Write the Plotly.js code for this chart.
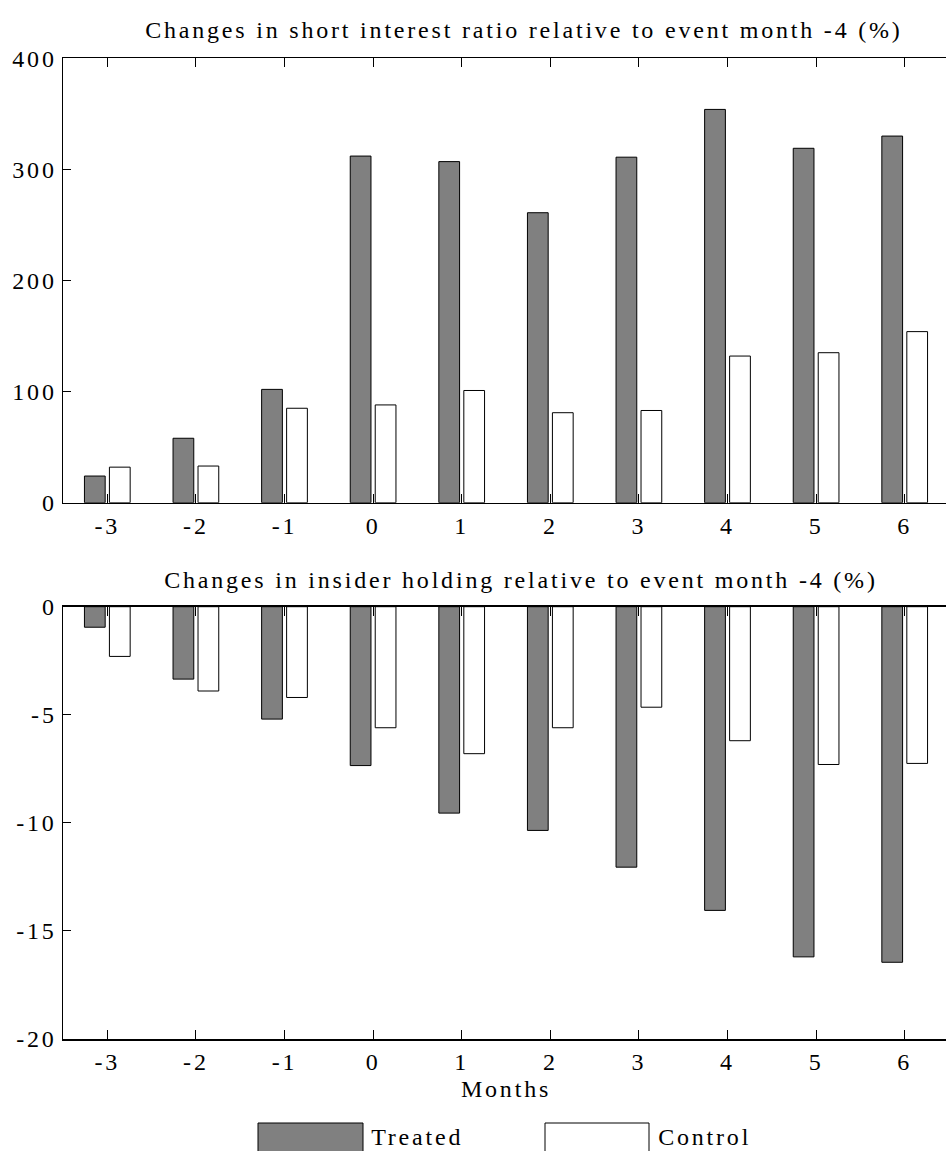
<!DOCTYPE html>
<html>
<head>
<meta charset="utf-8">
<script src="https://cdn.plot.ly/plotly-3.0.1.min.js"></script>
<style>
html, body { margin: 0; padding: 0; background: #fff; overflow: hidden; }
#chart { width: 950px; height: 1151px; }
.main-svg text { letter-spacing: 2.8px; }
</style>
</head>
<body>
<div id="chart"></div>
<script>
// ---- data ----
const months = [-3, -2, -1, 0, 1, 2, 3, 4, 5, 6];
const monthLabels = ['-3', '-2', '-1', '0', '1', '2', '3', '4', '5', '6'];
const shortTreated = [24, 58, 102, 312, 307, 261, 311, 354, 319, 330];
const shortControl = [32, 33, 85, 88, 101, 81, 83, 132, 135, 154];
const insiderTreated = [-0.95, -3.35, -5.2, -7.35, -9.55, -10.35, -12.05, -14.05, -16.2, -16.45];
const insiderControl = [-2.3, -3.9, -4.2, -5.6, -6.8, -5.6, -4.65, -6.2, -7.3, -7.25];
const topTicks = [0, 100, 200, 300, 400];
const topTickLabels = ['0', '100', '200', '300', '400'];
const botTicks = [-20, -15, -10, -5, 0];
const botTickLabels = ['-20', '-15', '-10', '-5', '0'];
const seriesNames = ['Treated', 'Control'];
const treatedColor = '#808080';
const controlColor = '#ffffff';

const barLine = { color: '#000', width: 1 };
const traces = [
  { type: 'bar', x: months, y: shortTreated, name: seriesNames[0], xaxis: 'x', yaxis: 'y',
    marker: { color: treatedColor, line: barLine } },
  { type: 'bar', x: months, y: shortControl, name: seriesNames[1], xaxis: 'x', yaxis: 'y',
    marker: { color: controlColor, line: barLine } },
  { type: 'bar', x: months, y: insiderTreated, name: seriesNames[0], xaxis: 'x2', yaxis: 'y2',
    marker: { color: treatedColor, line: barLine } },
  { type: 'bar', x: months, y: insiderControl, name: seriesNames[1], xaxis: 'x2', yaxis: 'y2',
    marker: { color: controlColor, line: barLine } }
];

const H = 1151, L = 63, PW = 886;
const py = v => 1 - v / H;
const px = v => (v - L) / PW;
const FS = 24;

const xCommon = {
  range: [-3.5, 6.5], tickvals: months, ticktext: monthLabels,
  ticks: 'inside', ticklen: 9, tickwidth: 1, tickcolor: '#000',
  showline: true, linecolor: '#000', linewidth: 1.5, mirror: 'ticks',
  showgrid: false, zeroline: false, fixedrange: true, automargin: false,
  ticklabelstandoff: 1
};
const yCommon = {
  ticks: 'inside', ticklen: 8, tickwidth: 1, tickcolor: '#000',
  showline: true, linecolor: '#000', linewidth: 1.5, mirror: false,
  showgrid: false, zeroline: false, fixedrange: true, automargin: false,
  ticklabelstandoff: 0
};
const yRight = {
  side: 'right', ticks: 'inside', ticklen: 8, tickwidth: 1, tickcolor: '#000',
  showticklabels: false, showline: false, showgrid: false, zeroline: false,
  fixedrange: true, automargin: false
};

const layout = {
  width: 950, height: H,
  margin: { l: L, r: 1, t: 0, b: 0 },
  paper_bgcolor: '#fff', plot_bgcolor: '#fff',
  font: { family: 'Liberation Serif, Times New Roman, serif', size: FS, color: '#000' },
  showlegend: false,
  barmode: 'group', bargap: 0.436, bargroupgap: 0.17,
  xaxis: Object.assign({}, xCommon, { anchor: 'y', domain: [0, 1] }),
  yaxis: Object.assign({}, yCommon, { anchor: 'x', domain: [py(502.7), py(58.3)],
    range: [0, 400], tickvals: topTicks, ticktext: topTickLabels }),
  yaxis3: Object.assign({}, yRight, { overlaying: 'y', anchor: 'x', range: [0, 400], tickvals: topTicks }),
  xaxis2: Object.assign({}, xCommon, { anchor: 'y2', domain: [0, 1],
    title: { text: 'Months', standoff: 6, font: { size: FS } } }),
  yaxis2: Object.assign({}, yCommon, { anchor: 'x2', domain: [py(1039), py(606.7)],
    range: [-20, 0], tickvals: botTicks, ticktext: botTickLabels }),
  yaxis4: Object.assign({}, yRight, { overlaying: 'y2', anchor: 'x2', range: [-20, 0], tickvals: botTicks }),
  annotations: [
    { text: 'Changes in short interest ratio relative to event month -4 (%)',
      xref: 'paper', yref: 'paper', x: px(524), y: py(30), xanchor: 'center', yanchor: 'middle',
      showarrow: false, font: { size: FS } },
    { text: 'Changes in insider holding relative to event month -4 (%)',
      xref: 'paper', yref: 'paper', x: px(521), y: py(580), xanchor: 'center', yanchor: 'middle',
      showarrow: false, font: { size: FS } },
    { text: seriesNames[0], xref: 'paper', yref: 'paper', x: px(379), y: py(1137),
      xanchor: 'left', yanchor: 'middle', showarrow: false, font: { size: FS } },
    { text: seriesNames[1], xref: 'paper', yref: 'paper', x: px(666), y: py(1137),
      xanchor: 'left', yanchor: 'middle', showarrow: false, font: { size: FS } }
  ],
  shapes: [
    { type: 'rect', xref: 'paper', yref: 'paper', x0: px(258), x1: px(363), y0: py(1123), y1: py(1170),
      fillcolor: treatedColor, line: { color: '#000', width: 1 } },
    { type: 'rect', xref: 'paper', yref: 'paper', x0: px(545), x1: px(649), y0: py(1123), y1: py(1170),
      fillcolor: controlColor, line: { color: '#000', width: 1 } }
  ]
};

Plotly.newPlot('chart', traces, layout, { displayModeBar: false, staticPlot: true });
</script>
</body>
</html>
